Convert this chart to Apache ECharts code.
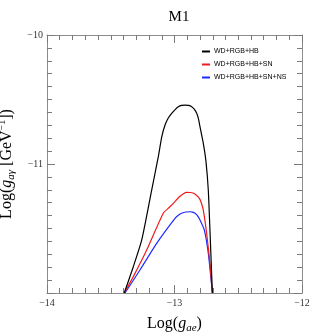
<!DOCTYPE html>
<html><head><meta charset="utf-8">
<script src="https://cdn.jsdelivr.net/npm/echarts@6/dist/echarts.min.js"></script>
<style>html,body{margin:0;padding:0;background:#fff}#c{width:312px;height:336px}</style>
</head><body><div id="c"></div>
<script>
var seriesNames = ['WD+RGB+HB', 'WD+RGB+HB+SN', 'WD+RGB+HB+SN+NS'];
var seriesColors = ['#000000', '#ee1c1c', '#1f2bff'];

var gaeBlack = [-13.394, -13.323, -13.257, -13.179, -13.127, -13.100, -13.075, -13.050, -13.022, -12.995, -12.970, -12.945, -12.918, -12.890, -12.865, -12.845, -12.826, -12.812, -12.800, -12.774, -12.753, -12.735, -12.722, -12.703];
var gagBlack = [-12.0, -11.796, -11.589, -11.202, -10.943, -10.790, -10.700, -10.645, -10.607, -10.578, -10.556, -10.545, -10.543, -10.546, -10.556, -10.575, -10.607, -10.650, -10.711, -10.840, -10.982, -11.202, -11.512, -12.0];

var gaeRed = [-13.394, -13.323, -13.218, -13.088, -13.040, -13.009, -12.957, -12.930, -12.904, -12.878, -12.852, -12.828, -12.805, -12.790, -12.774, -12.748, -12.722, -12.703];
var gagRed = [-12.0, -11.873, -11.667, -11.382, -11.335, -11.305, -11.250, -11.230, -11.220, -11.221, -11.227, -11.242, -11.266, -11.300, -11.357, -11.537, -11.770, -12.0];

var gaeBlue = [-13.388, -13.271, -13.140, -12.996, -12.970, -12.944, -12.910, -12.878, -12.858, -12.839, -12.820, -12.800, -12.766, -12.735, -12.703];
var gagBlue = [-12.0, -11.822, -11.615, -11.421, -11.398, -11.382, -11.372, -11.370, -11.373, -11.382, -11.400, -11.434, -11.512, -11.692, -12.0];

function zip(a, b) { return a.map(function (v, i) { return [v, b[i]]; }); }
var fmt = function (v) { return String(v).replace('-', '\u2212'); };
var serif = 'Liberation Serif';
var frameColor = '#8c8c8c';

function axisCommon(extra) {
  var o = {
    type: 'value', min: -14, max: -12, interval: 1,
    axisLine: { show: true, onZero: false, lineStyle: { color: frameColor } },
    axisTick: { show: true, inside: true, length: 8, lineStyle: { color: '#7a7a7a' } },
    minorTick: { show: true, splitNumber: 10, length: 5, lineStyle: { color: '#7a7a7a' } },
    splitLine: { show: false },
    axisLabel: { show: false }
  };
  for (var k in extra) o[k] = extra[k];
  return o;
}

var chart = echarts.init(document.getElementById('c'));
chart.setOption({
  animation: false,
  title: {
    text: 'M1', left: 174, top: 5, textAlign: 'center',
    textStyle: { fontFamily: serif, fontSize: 15, fontWeight: 'normal', color: '#000' }
  },
  legend: {
    data: seriesNames, orient: 'vertical', left: 197, top: 43,
    itemWidth: 8, itemHeight: 2, itemGap: 6, icon: 'rect',
    textStyle: { fontFamily: 'Liberation Sans', fontSize: 7, color: '#000', padding: [0, 0, 0, -1] }
  },
  grid: { left: 47, right: 10, top: 35, bottom: 43, outerBoundsMode: 'none', containLabel: false },
  xAxis: [
    axisCommon({
      position: 'bottom',
      axisLabel: { show: true, formatter: fmt, fontFamily: serif, fontSize: 10, color: '#333', margin: 5 },
      name: '{a|Log(}{i|g}{s|ae}{a|)}', nameLocation: 'middle', nameGap: 22,
      nameTextStyle: { rich: {
        a: { fontFamily: serif, fontSize: 16, color: '#000', lineHeight: 18 },
        i: { fontFamily: serif, fontSize: 16, fontStyle: 'italic', color: '#000', lineHeight: 18 },
        s: { fontFamily: serif, fontSize: 11, fontStyle: 'italic', color: '#000', lineHeight: 10, padding: [9, 0, 0, 0] }
      } }
    }),
    axisCommon({ position: 'top' })
  ],
  yAxis: [
    axisCommon({
      min: -12, max: -10, position: 'left',
      axisLabel: { show: true, formatter: function (v) { return v === -12 ? '' : fmt(v); },
        fontFamily: serif, fontSize: 10, color: '#333', margin: 4 },
      name: '{a|Log(}{i|g}{s|a\u03b3}{a| [GeV}{p|\u22121}{a|])}', nameLocation: 'middle', nameGap: 26,
      nameRotate: 90,
      nameTextStyle: { rich: {
        a: { fontFamily: serif, fontSize: 16, color: '#000', lineHeight: 18 },
        i: { fontFamily: serif, fontSize: 16, fontStyle: 'italic', color: '#000', lineHeight: 18 },
        s: { fontFamily: serif, fontSize: 11, fontStyle: 'italic', color: '#000', lineHeight: 10, padding: [9, 0, 0, 0] },
        p: { fontFamily: serif, fontSize: 10, color: '#000', lineHeight: 10, padding: [0, 0, 9, 0] }
      } }
    }),
    axisCommon({ min: -12, max: -10, position: 'right' })
  ],
  series: [
    { name: seriesNames[0], data: zip(gaeBlack, gagBlack) },
    { name: seriesNames[1], data: zip(gaeRed, gagRed) },
    { name: seriesNames[2], data: zip(gaeBlue, gagBlue) }
  ].map(function (s, i) {
    s.type = 'line'; s.showSymbol = false; s.smooth = 0.2; s.clip = true;
    s.color = seriesColors[i];
    s.lineStyle = { width: 1.2, color: seriesColors[i] };
    s.z = 3 - i;
    return s;
  })
});
</script></body></html>
